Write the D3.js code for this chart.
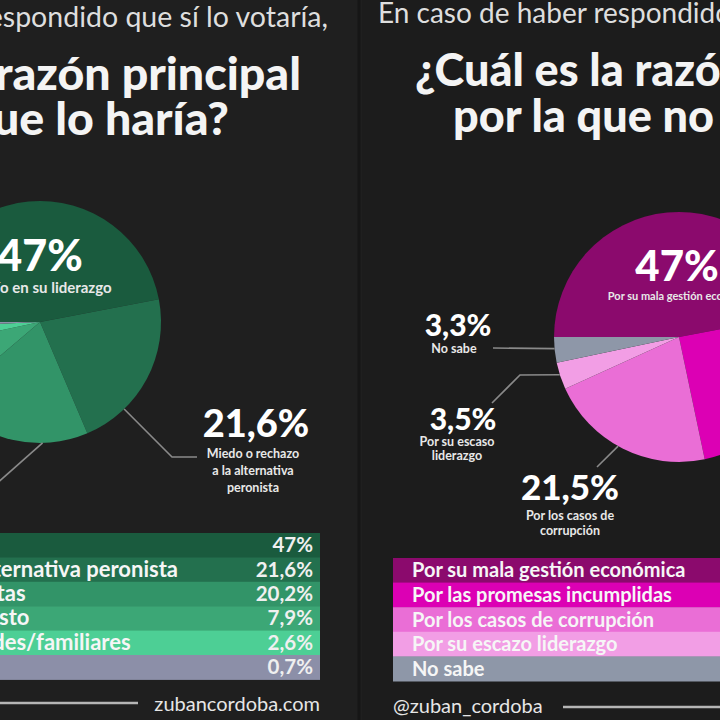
<!DOCTYPE html>
<html>
<head>
<meta charset="utf-8">
<script src="https://cdn.jsdelivr.net/npm/d3@7"></script>
<style>
  html, body { margin: 0; padding: 0; background: #1e1e1e; }
  svg { display: block; }
  text { font-family: Lato, "Open Sans", sans-serif; }
</style>
</head>
<body>
<svg id="chart" width="720" height="720"></svg>
<script>
// ---------- DATA ----------
const leftSubtitle = "En caso de haber respondido que sí lo votaría,";
const leftTitle = ["¿Cuál es la razón principal", "por la que lo haría?"];
const leftCategories = [
  "Confío en su liderazgo",
  "Miedo o rechazo a la alternativa peronista",
  "Por sus ideas y propuestas",
  "Por su trabajo en el puesto",
  "Por consejos de amistades/familiares",
  "No sabe"
];
const leftValues = [47, 21.6, 20.2, 7.9, 2.6, 0.7];
const leftColors = ["#1a5b3e", "#23704e", "#329468", "#3ca776", "#4dcf95", "#8c8fa8"];
const leftPieLabels = [
  ["Confío en su liderazgo"],
  ["Miedo o rechazo", "a la alternativa", "peronista"],
  null, null, null, null
];
const leftFooter = "zubancordoba.com";

const rightSubtitle = "En caso de haber respondido que no lo votaría,";
const rightTitle = ["¿Cuál es la razón principal", "por la que no lo votaría?"];
const rightCategories = [
  "Por su mala gestión económica",
  "Por las promesas incumplidas",
  "Por los casos de corrupción",
  "Por su escazo liderazgo",
  "No sabe"
];
const rightValues = [47, 24.7, 21.5, 3.5, 3.3];
const rightColors = ["#8b0a6d", "#dc00b4", "#ea6ed6", "#f29ee5", "#8e97a8"];
const rightPieLabels = [
  ["Por su mala gestión económica"],
  null,
  ["Por los casos de", "corrupción"],
  ["Por su escaso", "liderazgo"],
  ["No sabe"]
];
const rightFooter = "@zuban_cordoba";

// ---------- HELPERS ----------
const fmt = v => (Number.isInteger(v) ? String(v) : v.toFixed(1).replace(".", ",")) + "%";
const svg = d3.select("#chart");
const W = 720, H = 720;

svg.append("rect").attr("width", W).attr("height", H).attr("fill", "#1f1f1f");
svg.append("rect").attr("x", 362).attr("width", W - 362).attr("height", H).attr("fill", "#1c1c1c");
svg.append("line").attr("x1", 359).attr("x2", 359).attr("y1", 0).attr("y2", H)
  .attr("stroke", "#161616").attr("stroke-width", 3);

function drawPanel(cfg) {
  const g = svg.append("g");

  // subtitle
  g.append("text").attr("x", cfg.subX).attr("y", cfg.subY)
    .attr("text-anchor", cfg.subAnchor).attr("font-size", cfg.subFont).attr("font-weight", 400)
    .attr("fill", "#dedede").text(cfg.subtitle);

  // title
  cfg.title.forEach((t, i) => {
    g.append("text").attr("x", cfg.titleX[i]).attr("y", cfg.titleY[i])
      .attr("text-anchor", cfg.titleAnchor).attr("font-size", cfg.titleFont).attr("font-weight", 900)
      .attr("fill", "#f4f4f4").text(t);
  });

  // pie
  const pie = d3.pie().sort(null).startAngle(-Math.PI / 2).endAngle(1.5 * Math.PI);
  const arcs = pie(cfg.values);
  const arc = d3.arc().innerRadius(0).outerRadius(cfg.r);
  const pg = g.append("g").attr("transform", `translate(${cfg.cx},${cfg.cy})`);
  pg.selectAll("path").data(arcs).join("path")
    .attr("d", arc).attr("fill", (d, i) => cfg.colors[i]);

  // leader lines + labels
  cfg.labels.forEach(L => {
    const a = arcs[L.i];
    const ang = a.startAngle + L.frac * (a.endAngle - a.startAngle);
    const px = cfg.cx + cfg.r * Math.sin(ang), py = cfg.cy - cfg.r * Math.cos(ang);
    if (L.path) {
      const pts = [[px, py]].concat(L.path);
      g.append("path").attr("d", d3.line()(pts)).attr("fill", "none")
        .attr("stroke", "#8a8a8a").attr("stroke-width", 1.6);
    }
    if (L.x !== undefined) {
      g.append("text").attr("x", L.x).attr("y", L.y).attr("text-anchor", "middle")
        .attr("font-size", L.size).attr("font-weight", 900).attr("fill", "#ffffff")
        .text(fmt(cfg.values[L.i]));
      (cfg.pieLabels[L.i] || []).forEach((s, k) => {
        g.append("text").attr("x", L.sx).attr("y", L.sy + k * L.lh).attr("text-anchor", "middle")
          .attr("font-size", L.ss).attr("font-weight", 700).attr("fill", "#e8e8e8").text(s);
      });
    }
  });

  // table
  const y = d3.scaleBand().domain(d3.range(cfg.categories.length))
    .range([cfg.tableY, cfg.tableY + cfg.rowH * cfg.categories.length]).padding(0);
  const tg = g.append("g");
  tg.selectAll("rect").data(cfg.categories).join("rect")
    .attr("x", cfg.tableX0).attr("width", cfg.tableX1 - cfg.tableX0)
    .attr("y", (d, i) => y(i)).attr("height", y.bandwidth() + 0.5)
    .attr("fill", (d, i) => cfg.colors[i]);
  const labels = tg.selectAll("text.lab").data(cfg.categories).join("text")
    .attr("class", "lab")
    .attr("y", (d, i) => y(i) + y.bandwidth() / 2 + 7)
    .attr("font-size", cfg.tableFont).attr("font-weight", 700).attr("fill", "#f6f6f6")
    .text(d => d);
  let lx = cfg.textX;
  if (cfg.alignRow !== undefined) {
    const w = labels.nodes()[cfg.alignRow].getComputedTextLength();
    lx = cfg.alignEnd - w;
  }
  labels.attr("x", lx);
  tg.selectAll("text.val").data(cfg.values).join("text")
    .attr("class", "val")
    .attr("x", cfg.valX).attr("text-anchor", "end")
    .attr("y", (d, i) => y(i) + y.bandwidth() / 2 + 7)
    .attr("font-size", cfg.valFont).attr("font-weight", 700).attr("fill", "#f0f0f0")
    .text(d => fmt(d));

  // footer
  g.append("line").attr("x1", cfg.lineX[0]).attr("x2", cfg.lineX[1])
    .attr("y1", cfg.lineY).attr("y2", cfg.lineY)
    .attr("stroke", "#b5b5b5").attr("stroke-width", 2.5);
  g.append("text").attr("x", cfg.footX).attr("y", cfg.footY)
    .attr("text-anchor", cfg.footAnchor).attr("font-size", 20).attr("font-weight", 400)
    .attr("fill", "#e6e6e6").text(cfg.footer);
}

drawPanel({
  subtitle: leftSubtitle, subX: 328, subY: 27, subAnchor: "end", subFont: 28.5,
  title: leftTitle, titleX: [301, 229], titleY: [90, 135], titleAnchor: "end", titleFont: 46.5,
  values: leftValues, colors: leftColors, categories: leftCategories, pieLabels: leftPieLabels,
  cx: 40, cy: 322, r: 121,
  labels: [
    { i: 0, frac: 0.5, x: 40, y: 271, size: 43, sx: 38, sy: 293, lh: 12, ss: 15 },
    { i: 1, frac: 0.73, path: [[172, 457], [197, 457]], x: 256, y: 437, size: 38, sx: 253, sy: 458, lh: 17, ss: 12.5 },
    { i: 2, frac: 0.3, path: [[-5, 485]] }
  ],
  tableY: 533, rowH: 24.4, tableX0: -400, tableX1: 320, tableFont: 22, valFont: 20.5,
  alignRow: 1, alignEnd: 178, valX: 313,
  lineX: [-5, 138], lineY: 703, footer: leftFooter, footX: 320, footY: 711, footAnchor: "end"
});

drawPanel({
  subtitle: rightSubtitle, subX: 378, subY: 23, subAnchor: "start", subFont: 28,
  title: rightTitle, titleX: [415, 453], titleY: [86, 132], titleAnchor: "start", titleFont: 45,
  values: rightValues, colors: rightColors, categories: rightCategories, pieLabels: rightPieLabels,
  cx: 679, cy: 337, r: 125,
  labels: [
    { i: 0, frac: 0.5, x: 677, y: 281, size: 42, sx: 683, sy: 300, lh: 12, ss: 11 },
    { i: 4, frac: 0.55, path: [[493, 348]], x: 458, y: 336, size: 30, sx: 454, sy: 353, lh: 12, ss: 12.5 },
    { i: 3, frac: 0.55, path: [[520, 375], [492, 403]], x: 463, y: 430, size: 30, sx: 457, sy: 446, lh: 14, ss: 12.5 },
    { i: 2, frac: 0.53, path: [[597, 467]], x: 570, y: 500, size: 35, sx: 570, sy: 520, lh: 15, ss: 12.5 }
  ],
  tableY: 558, rowH: 24.6, tableX0: 393, tableX1: 800, tableFont: 20, valFont: 20,
  textX: 412, valX: 790,
  lineX: [563, 725], lineY: 707, footer: rightFooter, footX: 393, footY: 713, footAnchor: "start"
});
</script>
</body>
</html>
